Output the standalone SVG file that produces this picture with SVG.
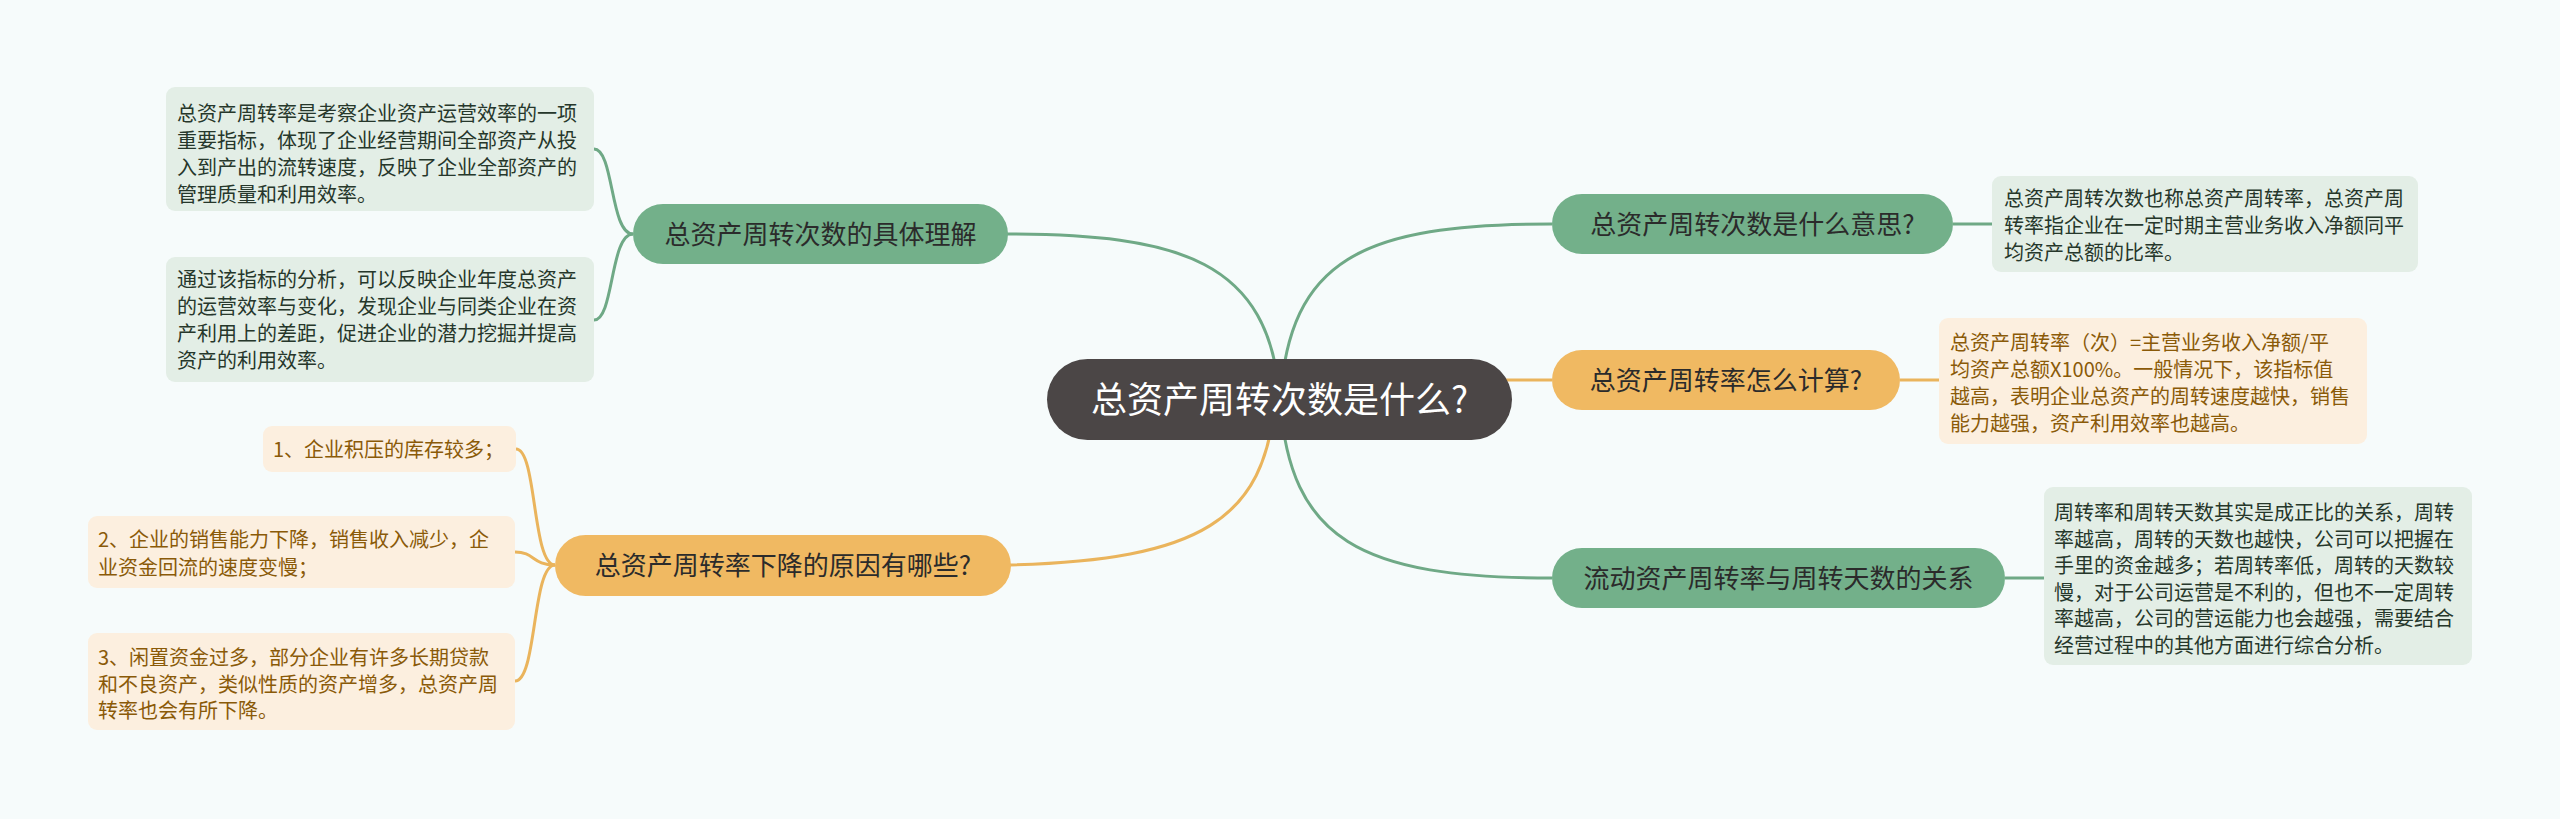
<svg xmlns="http://www.w3.org/2000/svg" width="2560" height="819" viewBox="0 0 2560 819">
<style>
.bg{fill:#f6fbfb}
.cg{fill:none;stroke:#6fa986;stroke-width:3}
.co{fill:none;stroke:#eab45c;stroke-width:3}
.pg{fill:#73b08a}
.po{fill:#f0b962}
.bxg{fill:#e3eee6}
.bxo{fill:#fcefdf}
text{font-family:"Noto Sans CJK SC","Noto Sans",sans-serif}
.pt{font-size:26px;fill:#2b2b2b;text-anchor:middle}
.ct{font-size:36px;fill:#ffffff;text-anchor:middle}
.tg{font-size:20px;fill:#26372b}
.to{font-size:20px;fill:#8a5a08}
</style>
<rect class="bg" x="0" y="0" width="2560" height="819"/>
<g id="connectors">
<path class="cg" d="M1280,400 C1290,260 1360,224 1552,224"/>
<path class="co" d="M1500,380 L1552,380"/>
<path class="cg" d="M1280,400 C1290,540 1360,578 1552,578"/>
<path class="cg" d="M1004,234 C1180,234 1270,260 1280,400"/>
<path class="co" d="M1010,565 C1200,560 1265,520 1275,400"/>
<path class="cg" d="M1953,224 L1992,224"/>
<path class="co" d="M1900,380 L1939,380"/>
<path class="cg" d="M2005,578 L2044,578"/>
<path class="cg" d="M633,234 C610,234 614,149 594,149"/>
<path class="cg" d="M633,234 C610,234 614,320 594,320"/>
<path class="co" d="M555,565 C532,565 537,449 516,449"/>
<path class="co" d="M555,565 C532,565 535,552 515,552"/>
<path class="co" d="M555,565 C532,565 537,681 515,681"/>
</g>
<g id="center">
<rect x="1047" y="359" width="465" height="81" rx="40.5" fill="#4b4646"/>
<text class="ct" x="1279.5" y="413">总资产周转次数是什么?</text>
</g>
<g id="n-understand">
<rect class="pg" x="633" y="204" width="375" height="60" rx="30"/>
<text class="pt" x="820.5" y="244">总资产周转次数的具体理解</text>
</g>
<g id="n-understand-1">
<rect class="bxg" x="166" y="87" width="428" height="124" rx="9"/>
<text class="tg" x="177" y="121">总资产周转率是考察企业资产运营效率的一项</text>
<text class="tg" x="177" y="148">重要指标，体现了企业经营期间全部资产从投</text>
<text class="tg" x="177" y="175">入到产出的流转速度，反映了企业全部资产的</text>
<text class="tg" x="177" y="202">管理质量和利用效率。</text>
</g>
<g id="n-understand-2">
<rect class="bxg" x="166" y="257" width="428" height="125" rx="9"/>
<text class="tg" x="177" y="287">通过该指标的分析，可以反映企业年度总资产</text>
<text class="tg" x="177" y="314">的运营效率与变化，发现企业与同类企业在资</text>
<text class="tg" x="177" y="341">产利用上的差距，促进企业的潜力挖掘并提高</text>
<text class="tg" x="177" y="368">资产的利用效率。</text>
</g>
<g id="n-reasons">
<rect class="po" x="555" y="535" width="456" height="61" rx="30.5"/>
<text class="pt" x="783" y="575">总资产周转率下降的原因有哪些?</text>
</g>
<g id="n-reason-1">
<rect class="bxo" x="263" y="426" width="253" height="46" rx="9"/>
<text class="to" x="273" y="457">1、企业积压的库存较多；</text>
</g>
<g id="n-reason-2">
<rect class="bxo" x="88" y="516" width="427" height="72" rx="9"/>
<text class="to" x="98" y="547">2、企业的销售能力下降，销售收入减少，企</text>
<text class="to" x="98" y="575">业资金回流的速度变慢；</text>
</g>
<g id="n-reason-3">
<rect class="bxo" x="88" y="633" width="427" height="97" rx="9"/>
<text class="to" x="98" y="665">3、闲置资金过多，部分企业有许多长期贷款</text>
<text class="to" x="98" y="692">和不良资产，类似性质的资产增多，总资产周</text>
<text class="to" x="98" y="718">转率也会有所下降。</text>
</g>
<g id="n-meaning">
<rect class="pg" x="1552" y="194" width="401" height="60" rx="30"/>
<text class="pt" x="1752.5" y="234">总资产周转次数是什么意思?</text>
</g>
<g id="n-meaning-1">
<rect class="bxg" x="1992" y="176" width="426" height="96" rx="9"/>
<text class="tg" x="2004" y="206">总资产周转次数也称总资产周转率，总资产周</text>
<text class="tg" x="2004" y="233">转率指企业在一定时期主营业务收入净额同平</text>
<text class="tg" x="2004" y="260">均资产总额的比率。</text>
</g>
<g id="n-calc">
<rect class="po" x="1552" y="350" width="348" height="60" rx="30"/>
<text class="pt" x="1726" y="390">总资产周转率怎么计算?</text>
</g>
<g id="n-calc-1">
<rect class="bxo" x="1939" y="318" width="428" height="126" rx="9"/>
<text class="to" x="1950" y="350">总资产周转率（次）=主营业务收入净额/平</text>
<text class="to" x="1950" y="377">均资产总额X100%。一般情况下，该指标值</text>
<text class="to" x="1950" y="404">越高，表明企业总资产的周转速度越快，销售</text>
<text class="to" x="1950" y="431">能力越强，资产利用效率也越高。</text>
</g>
<g id="n-relation">
<rect class="pg" x="1552" y="548" width="453" height="60" rx="30"/>
<text class="pt" x="1778.5" y="588">流动资产周转率与周转天数的关系</text>
</g>
<g id="n-relation-1">
<rect class="bxg" x="2044" y="487" width="428" height="178" rx="9"/>
<text class="tg" x="2054" y="520">周转率和周转天数其实是成正比的关系，周转</text>
<text class="tg" x="2054" y="546.5">率越高，周转的天数也越快，公司可以把握在</text>
<text class="tg" x="2054" y="573">手里的资金越多；若周转率低，周转的天数较</text>
<text class="tg" x="2054" y="599.5">慢，对于公司运营是不利的，但也不一定周转</text>
<text class="tg" x="2054" y="626">率越高，公司的营运能力也会越强，需要结合</text>
<text class="tg" x="2054" y="652.5">经营过程中的其他方面进行综合分析。</text>
</g>
</svg>
